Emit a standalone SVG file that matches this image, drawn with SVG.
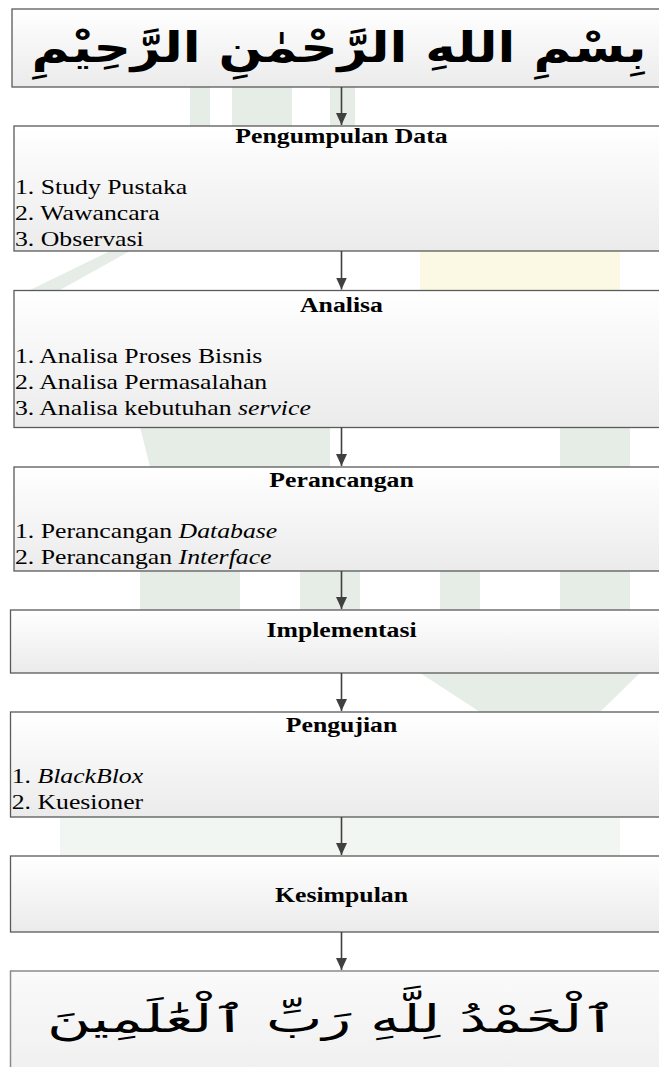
<svg xmlns="http://www.w3.org/2000/svg" width="659" height="1067" viewBox="0 0 659 1067">
<defs>
<linearGradient id="boxfill" x1="0" y1="0" x2="0" y2="1"><stop offset="0" stop-color="#ffffff"/><stop offset="1" stop-color="#ebebeb"/></linearGradient>
<linearGradient id="imgfill" x1="0" y1="0" x2="0" y2="1"><stop offset="0" stop-color="#fafafa"/><stop offset="1" stop-color="#efefef"/></linearGradient>
<marker id="arrow" markerUnits="userSpaceOnUse" markerWidth="12" markerHeight="11" viewBox="0 0 12 11" refX="12" refY="5.5" orient="auto"><path d="M0,0 L12,5.5 L0,11 Z" fill="#404040"/></marker>
<style>
.box{fill:url(#boxfill);stroke:#5a5a5a;stroke-width:1.3}
.img{fill:url(#imgfill);stroke:#8a8a8a;stroke-width:1.5}
.t{font-family:"Liberation Serif","Times New Roman",serif;font-size:22px;fill:#000}
.title{font-weight:bold;text-anchor:middle}
.ar{font-family:"DejaVu Sans","Noto Sans",sans-serif;fill:#000}
.conn line{stroke:#404040;stroke-width:1.6;marker-end:url(#arrow)}
.wm{fill:#e6ede6}
.wy{fill:#fbf8e4}
</style>
</defs>
<rect width="659" height="1067" fill="#ffffff"/>
<g id="watermark">
<rect class="wm" x="190" y="87" width="20" height="40"/>
<rect class="wm" x="232" y="87" width="60" height="40"/>
<rect class="wm" x="330" y="87" width="25" height="40"/>
<rect class="wy" x="420" y="251" width="200" height="40"/>
<polygon class="wm" points="30,290 110,251 130,251 60,290"/>
<polygon class="wm" points="140,427 330,427 330,467 150,467"/>
<rect class="wm" x="560" y="427" width="70" height="40"/>
<rect class="wm" x="140" y="571" width="100" height="39"/>
<rect class="wm" x="300" y="571" width="60" height="39"/>
<rect class="wm" x="440" y="571" width="40" height="39"/>
<rect class="wm" x="560" y="571" width="70" height="39"/>
<polygon class="wm" points="420,673 640,673 600,712 480,712"/>
<rect class="wm" x="60" y="817" width="560" height="39" opacity="0.5"/>
</g>
<g id="bismillah">
<rect class="box" x="12" y="9" width="660" height="78"/>
<text class="ar" x="339" y="62" font-size="42" font-weight="bold" text-anchor="middle" direction="rtl" textLength="615" lengthAdjust="spacingAndGlyphs">بِسْمِ اللهِ الرَّحْمٰنِ الرَّحِيْمِ</text>
</g>
<g id="pengumpulan-data">
<rect class="box" x="14" y="126" width="660" height="125"/>
<g transform="scale(1.17 1)">
<text class="t title" x="291.9" y="143">Pengumpulan Data</text>
<text class="t" x="12.8" y="194">1. Study Pustaka</text>
<text class="t" x="12.8" y="220">2. Wawancara</text>
<text class="t" x="12.8" y="246">3. Observasi</text>
</g>
</g>
<g id="analisa">
<rect class="box" x="14" y="290.5" width="660" height="137"/>
<g transform="scale(1.17 1)">
<text class="t title" x="291.9" y="312">Analisa</text>
<text class="t" x="12.8" y="363">1. Analisa Proses Bisnis</text>
<text class="t" x="12.8" y="389">2. Analisa Permasalahan</text>
<text class="t" x="12.8" y="415">3. Analisa kebutuhan <tspan font-style="italic">service</tspan></text>
</g>
</g>
<g id="perancangan">
<rect class="box" x="14" y="467" width="660" height="104"/>
<g transform="scale(1.17 1)">
<text class="t title" x="291.9" y="487">Perancangan</text>
<text class="t" x="12.8" y="538">1. Perancangan <tspan font-style="italic">Database</tspan></text>
<text class="t" x="12.8" y="564">2. Perancangan <tspan font-style="italic">Interface</tspan></text>
</g>
</g>
<g id="implementasi">
<rect class="box" x="10.5" y="610" width="660" height="63"/>
<g transform="scale(1.17 1)">
<text class="t title" x="291.9" y="637">Implementasi</text>
</g>
</g>
<g id="pengujian">
<rect class="box" x="10.5" y="712" width="660" height="105"/>
<g transform="scale(1.17 1)">
<text class="t title" x="291.9" y="732">Pengujian</text>
<text class="t" x="10" y="783">1. <tspan font-style="italic">BlackBlox</tspan></text>
<text class="t" x="10" y="809">2. Kuesioner</text>
</g>
</g>
<g id="kesimpulan">
<rect class="box" x="10.5" y="856" width="660" height="76"/>
<g transform="scale(1.17 1)">
<text class="t title" x="291.9" y="902">Kesimpulan</text>
</g>
</g>
<g id="alhamdulillah">
<rect class="img" x="10.5" y="971" width="660" height="110"/>
<text class="ar" x="332" y="1032" font-size="38" text-anchor="middle" direction="rtl" textLength="570" lengthAdjust="spacingAndGlyphs">ٱلْحَمْدُ لِلَّهِ رَبِّ ٱلْعَٰلَمِينَ</text>
</g>
<g id="connectors" class="conn">
<line x1="341.5" y1="87" x2="341.5" y2="125"/>
<line x1="341.5" y1="251" x2="341.5" y2="289.5"/>
<line x1="341.5" y1="427.5" x2="341.5" y2="466"/>
<line x1="341.5" y1="571" x2="341.5" y2="609"/>
<line x1="341.5" y1="673" x2="341.5" y2="711"/>
<line x1="341.5" y1="817" x2="341.5" y2="855"/>
<line x1="341.5" y1="932" x2="341.5" y2="970"/>
</g>
</svg>
